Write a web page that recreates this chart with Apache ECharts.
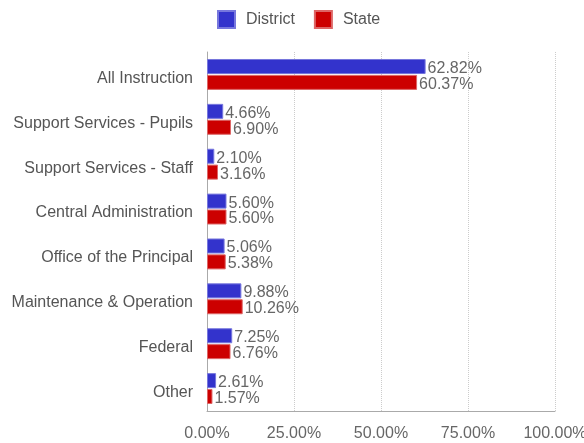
<!DOCTYPE html>
<html>
<head>
  <meta charset="UTF-8">
  <script src="https://cdn.jsdelivr.net/npm/echarts@6/dist/echarts.min.js"></script>
  <style>
  html, body { margin: 0; padding: 0; background: #fff; }
  #main { width: 584px; height: 443px; }
  </style>
</head>
<body>
  <div id="main"></div>
<script>
var categories = ['All Instruction', 'Support Services - Pupils', 'Support Services - Staff',
  'Central Administration', 'Office of the Principal', 'Maintenance & Operation', 'Federal', 'Other'];
var district = [62.82, 4.66, 2.10, 5.60, 5.06, 9.88, 7.25, 2.61];
var state = [60.37, 6.90, 3.16, 5.60, 5.38, 10.26, 6.76, 1.57];

var chart = echarts.init(document.getElementById('main'));

var font = 'Liberation Sans, Arial';

var labelStyle = {
  show: true,
  position: 'right',
  distance: 2,
  color: '#666',
  fontFamily: font,
  fontSize: 16,
  offset: [0, 2],
  formatter: function (p) { return p.value.toFixed(2) + '%'; }
};

chart.setOption({
  animation: false,
  legend: {
    top: 5,
    left: 212,
    itemWidth: 17,
    itemHeight: 17,
    itemGap: 19,
    icon: 'rect',
    textStyle: { color: '#555', fontSize: 16, fontFamily: font, padding: [0, 0, 0, 6] },
    data: ['District', 'State']
  },
  grid: { left: 207, right: 29, top: 52, bottom: 32, outerBoundsMode: 'none', containLabel: false },
  xAxis: {
    type: 'value',
    min: 0,
    max: 100,
    interval: 25,
    axisLine: { show: true, lineStyle: { color: '#aaa' } },
    axisTick: { show: false },
    splitLine: { lineStyle: { color: '#ccc', type: 'dotted' } },
    axisLabel: {
      color: '#666', fontSize: 16, fontFamily: font, margin: 15,
      formatter: function (v) { return v.toFixed(2) + '%'; }
    }
  },
  yAxis: {
    type: 'category',
    inverse: true,
    data: categories,
    axisLine: { show: true, lineStyle: { color: '#aaa' } },
    axisTick: { show: false },
    axisLabel: { color: '#555', fontSize: 16, lineHeight: 8, verticalAlign: 'top', fontFamily: font, margin: 14 }
  },
  series: [{
    name: 'District',
    type: 'bar',
    data: district,
    barWidth: 15,
    barGap: '6%',
    itemStyle: { color: '#3333cc', borderColor: '#7777dd', borderWidth: 1 },
    label: labelStyle
  }, {
    name: 'State',
    type: 'bar',
    data: state,
    barWidth: 15,
    itemStyle: { color: '#cc0000', borderColor: '#dd6666', borderWidth: 1 },
    label: labelStyle
  }]
});
</script>
</body>
</html>
